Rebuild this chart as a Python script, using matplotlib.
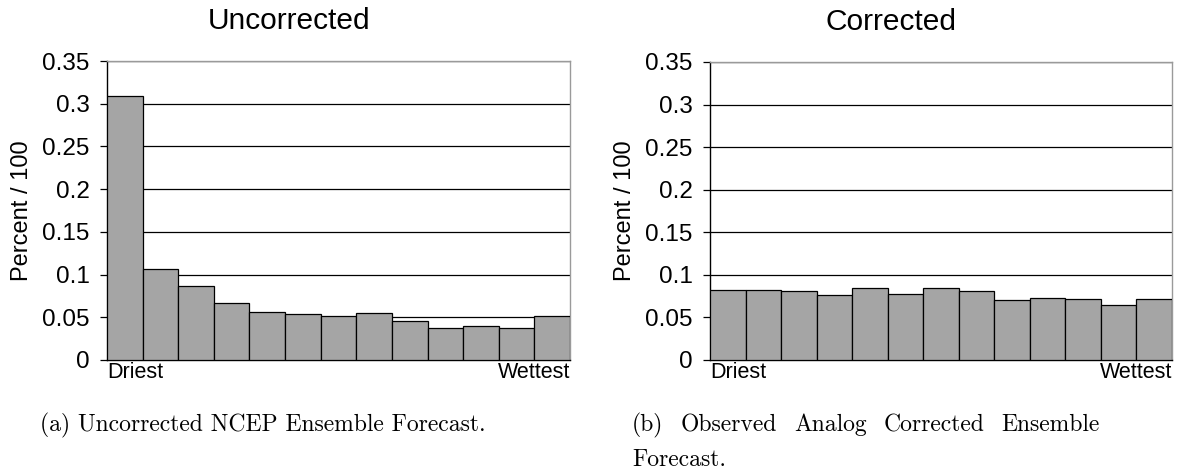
import matplotlib

matplotlib.use("Agg")
import matplotlib.pyplot as plt
import numpy as np

plt.rcParams["font.family"] = ["Liberation Sans", "DejaVu Sans"]

bins = np.arange(13)
uncorrected = [0.309, 0.107, 0.087, 0.067, 0.056, 0.054, 0.052, 0.055, 0.046, 0.038, 0.040, 0.038, 0.052]
corrected = [0.082, 0.082, 0.081, 0.076, 0.084, 0.078, 0.084, 0.081, 0.071, 0.073, 0.072, 0.065, 0.072]
titles = ["Uncorrected", "Corrected"]
end_labels = ["Driest", "Wettest"]
yticks = [0, 0.05, 0.1, 0.15, 0.2, 0.25, 0.3, 0.35]
ytick_labels = ["0", "0.05", "0.1", "0.15", "0.2", "0.25", "0.3", "0.35"]

W, H = 1182, 471
fig = plt.figure(figsize=(W / 100, H / 100), dpi=100)
fig.patch.set_facecolor("white")

# axes boxes in pixels: left, right, top, bottom
boxes = [(107, 570, 61, 360), (710, 1172, 62, 360)]
title_centers = [288.7, 891]

for (l, r, t, b), vals, title, tc in zip(boxes, [uncorrected, corrected], titles, title_centers):
    ax = fig.add_axes([l / W, 1 - b / H, (r - l) / W, (b - t) / H])
    ax.bar(bins, vals, width=1.0, align="edge", color="#a5a5a5",
           edgecolor="black", linewidth=0.9, zorder=3)
    ax.set_xlim(0, 13)
    ax.set_ylim(0, 0.35)
    ax.set_yticks(yticks)
    ax.set_yticklabels(ytick_labels)
    ax.yaxis.grid(True, color="black", linewidth=0.9)
    ax.set_axisbelow(True)
    ax.tick_params(axis="y", direction="out", length=5, width=0.9,
                   pad=7.5, labelsize=17.5, color="black")
    ax.set_xticks([0, 13])
    ax.set_xticklabels(end_labels, fontsize=15.5)
    ax.tick_params(axis="x", length=0, pad=1.5)
    xl = ax.get_xticklabels()
    xl[0].set_ha("left")
    xl[1].set_ha("right")
    for side in ["left", "bottom"]:
        ax.spines[side].set_color("black")
        ax.spines[side].set_linewidth(1.0)
    for side in ["top", "right"]:
        ax.spines[side].set_color("#9a9a9a")
        ax.spines[side].set_linewidth(1.0)
    ax.set_ylabel("Percent / 100", fontsize=17)
    ax.yaxis.set_label_coords(-0.160, 0.5)
    ax.set_title(title, fontsize=21.5, x=(tc - l) / (r - l), pad=23)

cap_size = 17
fig.text(40 / W, 1 - 431 / H, "(a) Uncorrected NCEP Ensemble Forecast.",
         family="cmr10", fontsize=cap_size, ha="left", va="baseline")

# caption (b): justified first line
words = ["(b)", "Observed", "Analog", "Corrected", "Ensemble"]
x0, x1 = 632, 1100
texts = [fig.text(x0 / W, 1 - 431 / H, w, family="cmr10", fontsize=cap_size,
                  ha="left", va="baseline") for w in words]
fig.canvas.draw()
renderer = fig.canvas.get_renderer()
widths = [t.get_window_extent(renderer).width for t in texts]
gap = (x1 - x0 - sum(widths)) / (len(words) - 1)
pos = x0
for t, w in zip(texts, widths):
    t.set_x(pos / W)
    pos += w + gap
fig.text(x0 / W, 1 - 466 / H, "Forecast.", family="cmr10", fontsize=cap_size,
         ha="left", va="baseline")

fig.savefig("out.png", dpi=100, facecolor="white")
